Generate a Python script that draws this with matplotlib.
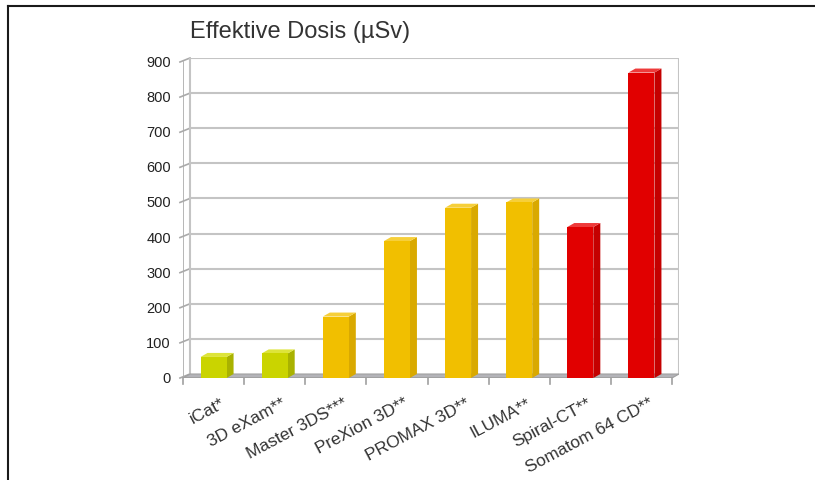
import numpy as np
import matplotlib
matplotlib.use("Agg")
import matplotlib.pyplot as plt
from matplotlib.patches import Polygon, Rectangle
from matplotlib.lines import Line2D

plt.rcParams['font.family'] = ['Liberation Sans', 'DejaVu Sans']

# Daten
geraete = ['iCat*', '3D eXam**', 'Master 3DS***', 'PreXion 3D**', 'PROMAX 3D**',
           'ILUMA**', 'Spiral-CT**', 'Somatom 64 CD**']
dosis = [60, 70, 175, 390, 485, 500, 430, 870]
gruppe = ['gruen', 'gruen', 'gelb', 'gelb', 'gelb', 'gelb', 'rot', 'rot']
y_ticks = list(range(0, 1000, 100))

farben = {
    'gruen': ('#cad400', '#a9b200', '#dde43a'),
    'gelb': ('#f1bf00', '#d9a900', '#f6cf3a'),
    'rot': ('#e10000', '#c40000', '#ee3a3a'),
}

W, H = 815, 481
fig = plt.figure(figsize=(W / 100, H / 100), dpi=100)
fig.patch.set_facecolor('white')

# Achse in Pixeln: vorne links x=183, 0 bei y=379, hinten 900 bei y=59
ax = fig.add_axes([183 / W, 102 / H, 496 / W, 320 / H])
n = len(geraete)
px_x = 489 / n            # Pixel pro Kategorie
px_y = 316 / 900          # Pixel pro Einheit
dx = 7 / px_x             # Tiefe in Datenkoordinaten
dy = 4 / px_y
ax.set_xlim(0, n + dx)
ax.set_ylim(0, 900 + dy)
ax.axis('off')

grid_col = '#c4c4c4'
# Boden
ax.add_patch(Polygon([(0, 0), (n, 0), (n + dx, dy), (dx, dy)], closed=True,
                     facecolor='#b3b3b8', edgecolor='#a0a0a0', lw=0.8, zorder=1))
# Rueckwand
for v in y_ticks:
    if v > 0:
        ax.add_line(Line2D([dx, n + dx], [v + dy, v + dy], color=grid_col, lw=1.5, zorder=0))
    ax.add_line(Line2D([-0.05, dx], [v, v + dy], color='#aaaaaa', lw=1.2, zorder=0, clip_on=False))
    ax.text(-0.2, v, str(v), ha='right', va='center', fontsize=10.5, color='#222222')
ax.add_line(Line2D([dx, dx], [dy, 900 + dy], color=grid_col, lw=1.5, zorder=0))
ax.add_line(Line2D([n + dx, n + dx], [dy, 900 + dy], color=grid_col, lw=1.5, zorder=0))
ax.add_line(Line2D([0, 0], [0, 900], color='#aaaaaa', lw=1.2, zorder=0))
# Kategorie-Ticks vorne
for i in range(n + 1):
    ax.add_line(Line2D([i, i], [0, -18], color='#a0a0a0', lw=1.2, clip_on=False))
ax.add_line(Line2D([0, n], [0, 0], color='#a0a0a0', lw=1.2, zorder=2))

# Balken in Pseudo-3D
bw = 26 / px_x
for i, (v, g) in enumerate(zip(dosis, gruppe)):
    front, side, top = farben[g]
    x0 = i + 0.5 - bw / 2
    x1 = x0 + bw
    ax.add_patch(Polygon([(x1, 0), (x1 + dx, dy), (x1 + dx, v + dy), (x1, v)],
                         closed=True, facecolor=side, edgecolor='none', zorder=3))
    ax.add_patch(Polygon([(x0, v), (x1, v), (x1 + dx, v + dy), (x0 + dx, v + dy)],
                         closed=True, facecolor=top, edgecolor='none', zorder=3))
    ax.add_patch(Rectangle((x0, 0), bw, v, facecolor=front, edgecolor='none', zorder=4))
    ax.annotate(geraete[i], xy=(i + 0.5, 0), xytext=(5, -12), textcoords='offset points',
                ha='right', va='top', rotation=28, rotation_mode='anchor',
                fontsize=12.5, color='#333333', annotation_clip=False)

fig.text(190 / W, 1 - 32 / H, 'Effektive Dosis (µSv)', ha='left', va='center',
         fontsize=17, color='#333333')

# Rahmen oben und links
fig.add_artist(Line2D([7.5 / W, 1], [1 - 6.5 / H, 1 - 6.5 / H], color='#1a1a1a', lw=1.5))
fig.add_artist(Line2D([7.5 / W, 7.5 / W], [0, 1 - 6.5 / H], color='#1a1a1a', lw=1.5))

fig.savefig('out.png', dpi=100, facecolor='white')
